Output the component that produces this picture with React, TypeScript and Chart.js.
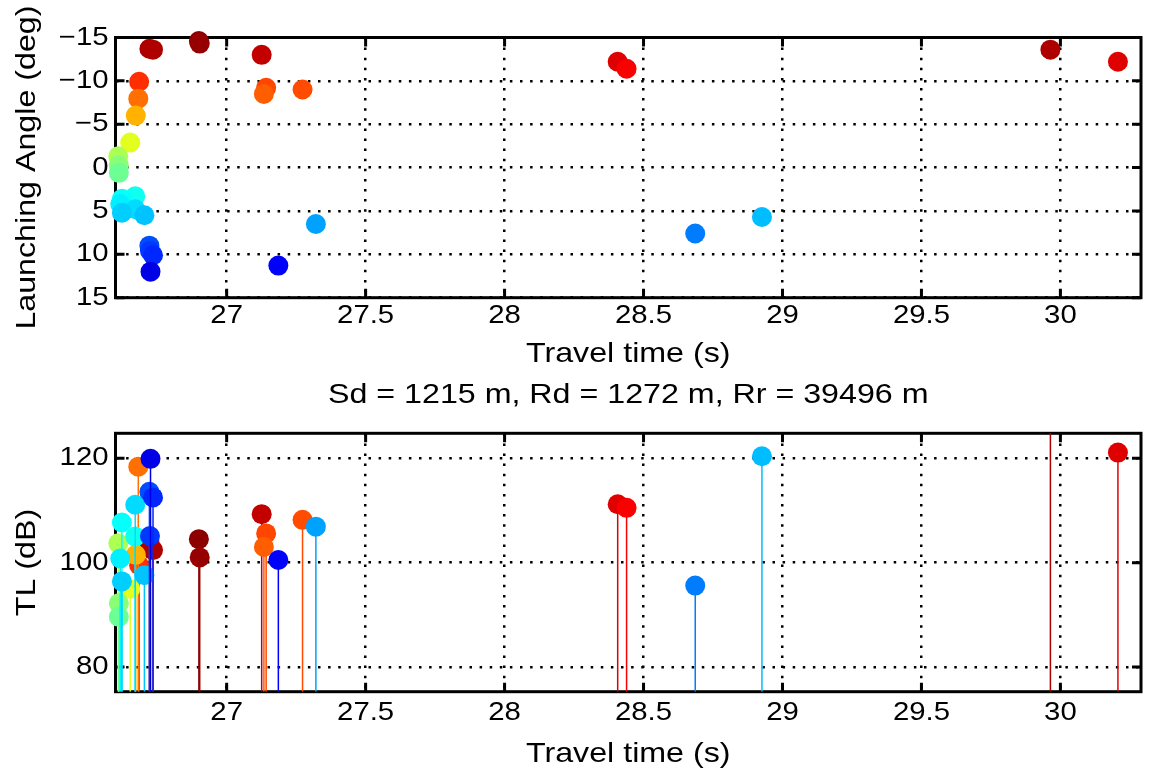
import React, { useEffect, useRef } from "react";
import { Chart, registerables } from "chart.js";

Chart.register(...registerables);

// ---------------- data (one entry per ray, ordered by launch angle) ----------------
const TRAVEL_TIME = [
  26.9, 26.903, 26.722, 29.964, 26.735, 27.126, 28.407, 30.207, 28.439, 26.685,
  27.142, 27.273, 27.134, 26.682, 26.673, 26.653, 26.61, 26.612, 26.612, 26.671,
  26.623, 26.617, 26.671, 26.623, 26.704, 28.926, 27.321, 28.686, 26.722, 26.724,
  26.735, 27.186, 26.726,
];
const LAUNCH_ANGLE = [
  -14.6, -14.3, -13.7, -13.6, -13.6, -13.0, -12.2, -12.2, -11.4, -9.9,
  -9.2, -9.0, -8.5, -7.95, -6.0, -2.9, -1.3, -0.3, 0.6, 3.3,
  3.6, 4.2, 4.8, 5.2, 5.5, 5.7, 6.5, 7.6, 9.0, 9.6,
  10.1, 11.3, 12.0,
];
const TL_DB = [
  104.5, 101.0, 104.0, 128.0, 102.4, 109.3, 111.2, 121.1, 110.5, 99.5,
  105.6, 108.2, 103.0, 118.4, 101.5, 95.0, 103.7, 92.2, 89.6, 105.0,
  107.7, 100.8, 111.1, 96.4, 97.6, 120.4, 106.9, 95.6, 113.6, 105.1,
  112.5, 100.5, 119.9,
];

const TIME_TICKS = [27, 27.5, 28, 28.5, 29, 29.5, 30];
const ANGLE_TICKS = [-15, -10, -5, 0, 5, 10, 15];
const TL_TICKS = [80, 100, 120];
const TIME_RANGE = [26.6, 30.29];
const ANGLE_RANGE = [-15, 15];
const TL_RANGE = [75.25, 124.8];
const COLOR_LIMITS = [-15, 15];

const TITLE = "Sd = 1215 m, Rd = 1272 m, Rr = 39496 m";
const X_LABEL = "Travel time (s)";
const Y1_LABEL = "Launching Angle (deg)";
const Y2_LABEL = "TL (dB)";

// ---------------- styling ----------------
const FONT = '"Liberation Sans", Arial, Helvetica, sans-serif';
const TEXT_STRETCH = 1.15;
const TICK_FONT_SIZE = 25.5;
const LABEL_FONT_SIZE = 28;
const W = 1151;
const TOP_H = 380;
const BOT_H = 396;

function jet(value: number): string {
  const t = (COLOR_LIMITS[1] - value) / (COLOR_LIMITS[1] - COLOR_LIMITS[0]);
  const c = (x: number) => Math.max(0, Math.min(1, x));
  const r = c(1.5 - Math.abs(4 * t - 3));
  const g = c(1.5 - Math.abs(4 * t - 2));
  const b = c(1.5 - Math.abs(4 * t - 1));
  return `rgb(${Math.round(r * 255)},${Math.round(g * 255)},${Math.round(b * 255)})`;
}

function fmtTick(v: number): string {
  return v < 0 ? "\u2212" + Math.abs(v) : String(v);
}

function stretchText(ctx: any) {
  const orig = ctx.fillText.bind(ctx);
  ctx.fillText = (text: string, x: number, y: number) => {
    ctx.save();
    ctx.translate(x, y);
    ctx.scale(TEXT_STRETCH, 1);
    orig(text, 0, 0);
    ctx.restore();
  };
}

const framePlugin = {
  id: "matlabFrame",
  beforeDatasetsDraw(chart: any) {
    const { ctx, chartArea: a, scales } = chart;
    const L = 9;
    ctx.save();
    ctx.strokeStyle = "#000";
    ctx.lineWidth = 3;
    ctx.setLineDash([]);
    ctx.strokeRect(a.left, a.top, a.right - a.left, a.bottom - a.top);
    ctx.beginPath();
    scales.x.ticks.forEach((t: any) => {
      const px = scales.x.getPixelForValue(t.value);
      ctx.moveTo(px, a.bottom);
      ctx.lineTo(px, a.bottom - L);
      ctx.moveTo(px, a.top);
      ctx.lineTo(px, a.top + L);
    });
    scales.y.ticks.forEach((t: any) => {
      const py = scales.y.getPixelForValue(t.value);
      ctx.moveTo(a.left, py);
      ctx.lineTo(a.left + L, py);
      ctx.moveTo(a.right, py);
      ctx.lineTo(a.right - L, py);
    });
    ctx.stroke();
    ctx.restore();
  },
  afterDraw(chart: any, _args: any, opts: any) {
    const { ctx, chartArea: a } = chart;
    ctx.save();
    ctx.fillStyle = "#000";
    ctx.font = `${LABEL_FONT_SIZE}px ${FONT}`;
    ctx.textAlign = "center";
    ctx.textBaseline = "middle";
    const cx = (a.left + a.right) / 2;
    if (opts.xLabel) ctx.fillText(opts.xLabel, cx, a.bottom + opts.xLabelOffset);
    if (opts.title) ctx.fillText(opts.title, cx, a.top - opts.titleOffset);
    if (opts.yLabel) {
      ctx.save();
      ctx.translate(opts.yLabelX, (a.top + a.bottom) / 2);
      ctx.rotate(-Math.PI / 2);
      ctx.fillText(opts.yLabel, 0, 0);
      ctx.restore();
    }
    ctx.restore();
  },
};

function axisCommon(ticksArr: number[], min: number, max: number, pad: number) {
  return {
    type: "linear",
    min,
    max,
    afterBuildTicks: (s: any) => {
      s.ticks = ticksArr.map((v) => ({ value: v }));
    },
    grid: { color: "#000", lineWidth: 2.5, drawTicks: false },
    border: { display: false, dash: [2.5, 7.6] },
    ticks: {
      color: "#000",
      font: { family: FONT, size: TICK_FONT_SIZE },
      padding: pad,
      maxRotation: 0,
      autoSkip: false,
      callback: (v: number) => fmtTick(v),
    },
  };
}

export default function App() {
  const topRef = useRef<HTMLCanvasElement>(null);
  const botRef = useRef<HTMLCanvasElement>(null);

  useEffect(() => {
    const colors = LAUNCH_ANGLE.map((a) => jet(a));

    const topCanvas = topRef.current!;
    stretchText(topCanvas.getContext("2d"));
    const top = new Chart(topCanvas, {
      type: "scatter",
      data: {
        datasets: [
          {
            data: TRAVEL_TIME.map((t, i) => ({ x: t, y: LAUNCH_ANGLE[i] })),
            backgroundColor: colors,
            borderWidth: 0,
            pointRadius: 10,
            pointHoverRadius: 10,
            clip: false,
          } as any,
        ],
      },
      options: {
        responsive: false,
        animation: false,
        devicePixelRatio: 1,
        events: [],
        layout: { padding: { top: 37.5, right: 5, left: 0, bottom: 0 } },
        plugins: {
          legend: { display: false },
          tooltip: { enabled: false },
          matlabFrame: { xLabel: X_LABEL, xLabelOffset: 57, yLabel: Y1_LABEL, yLabelX: 27 },
        } as any,
        scales: {
          x: {
            ...axisCommon(TIME_TICKS, TIME_RANGE[0], TIME_RANGE[1], 3),
            afterFit: (s: any) => {
              s.height = TOP_H - 297.7;
            },
          },
          y: {
            ...axisCommon(ANGLE_TICKS, ANGLE_RANGE[0], ANGLE_RANGE[1], 7),
            reverse: true,
            afterFit: (s: any) => {
              s.width = 115.5;
            },
          },
        } as any,
      },
      plugins: [framePlugin],
    });

    const botCanvas = botRef.current!;
    stretchText(botCanvas.getContext("2d"));
    const n = TRAVEL_TIME.length;
    const bot = new Chart(botCanvas, {
      type: "scatter",
      data: {
        datasets: TRAVEL_TIME.map((t, i) => ({
          data: [
            { x: t, y: TL_RANGE[0] },
            { x: t, y: TL_DB[i] },
          ],
          showLine: true,
          borderColor: colors[i],
          backgroundColor: colors[i],
          pointBackgroundColor: colors[i],
          borderWidth: 1.5,
          pointBorderWidth: 0,
          pointRadius: [0, 10],
          pointHoverRadius: [0, 10],
          clip: { left: 15, right: 15, top: 0, bottom: 0 },
          order: n - i,
        })) as any,
      },
      options: {
        responsive: false,
        animation: false,
        devicePixelRatio: 1,
        events: [],
        layout: { padding: { top: 53.3, right: 5, left: 0, bottom: 0 } },
        plugins: {
          legend: { display: false },
          tooltip: { enabled: false },
          matlabFrame: {
            xLabel: X_LABEL,
            xLabelOffset: 63,
            yLabel: Y2_LABEL,
            yLabelX: 27,
            title: TITLE,
            titleOffset: 38,
          },
        } as any,
        scales: {
          x: {
            ...axisCommon(TIME_TICKS, TIME_RANGE[0], TIME_RANGE[1], 6),
            afterFit: (s: any) => {
              s.height = BOT_H - (691.7 - TOP_H);
            },
          },
          y: {
            ...axisCommon(TL_TICKS, TL_RANGE[0], TL_RANGE[1], 7),
            afterFit: (s: any) => {
              s.width = 115.5;
            },
          },
        } as any,
      },
      plugins: [framePlugin],
    });

    return () => {
      top.destroy();
      bot.destroy();
    };
  }, []);

  return (
    <div style={{ position: "fixed", left: 0, top: 0, width: W, height: TOP_H + BOT_H, background: "#fff" }}>
      <canvas ref={topRef} width={W} height={TOP_H} style={{ position: "absolute", left: 0, top: 0 }} />
      <canvas ref={botRef} width={W} height={BOT_H} style={{ position: "absolute", left: 0, top: TOP_H }} />
    </div>
  );
}
